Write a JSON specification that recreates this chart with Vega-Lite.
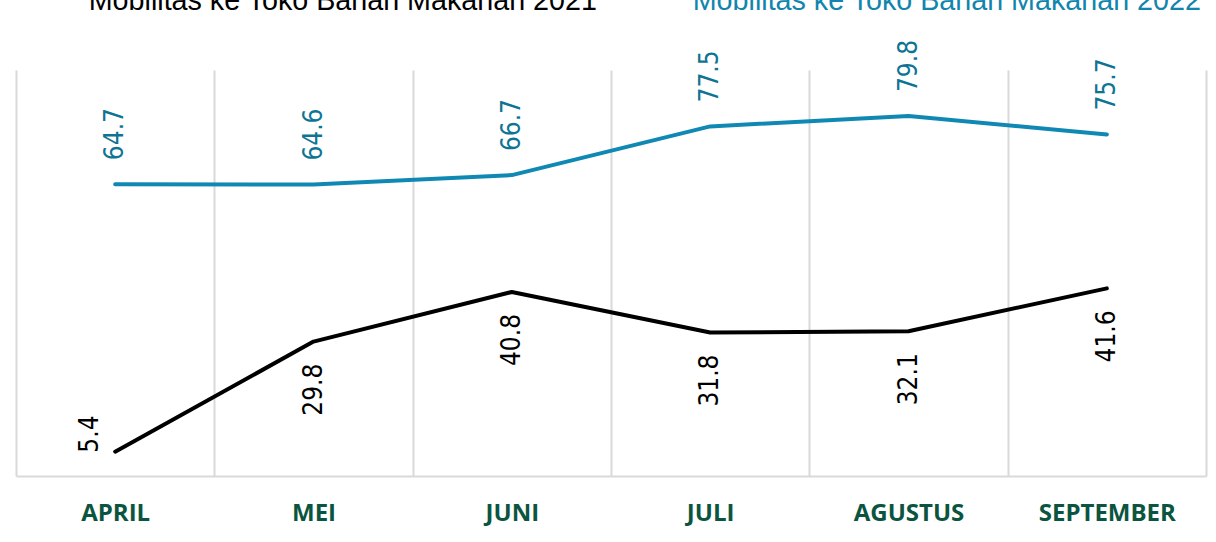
{
  "$schema": "https://vega.github.io/schema/vega-lite/v6.json",
  "width": 1190,
  "height": 406,
  "autosize": {"type": "none"},
  "padding": {"left": 16, "top": 70, "right": 10, "bottom": 66},
  "background": "white",
  "config": {"view": {"stroke": null}},
  "data": {
    "values": [
      {"month": "APRIL", "series": "Mobilitas ke Toko Bahan Makanan 2021", "value": 5.4},
      {"month": "MEI", "series": "Mobilitas ke Toko Bahan Makanan 2021", "value": 29.8},
      {"month": "JUNI", "series": "Mobilitas ke Toko Bahan Makanan 2021", "value": 40.8},
      {"month": "JULI", "series": "Mobilitas ke Toko Bahan Makanan 2021", "value": 31.8},
      {"month": "AGUSTUS", "series": "Mobilitas ke Toko Bahan Makanan 2021", "value": 32.1},
      {"month": "SEPTEMBER", "series": "Mobilitas ke Toko Bahan Makanan 2021", "value": 41.6},
      {"month": "APRIL", "series": "Mobilitas ke Toko Bahan Makanan 2022", "value": 64.7},
      {"month": "MEI", "series": "Mobilitas ke Toko Bahan Makanan 2022", "value": 64.6},
      {"month": "JUNI", "series": "Mobilitas ke Toko Bahan Makanan 2022", "value": 66.7},
      {"month": "JULI", "series": "Mobilitas ke Toko Bahan Makanan 2022", "value": 77.5},
      {"month": "AGUSTUS", "series": "Mobilitas ke Toko Bahan Makanan 2022", "value": 79.8},
      {"month": "SEPTEMBER", "series": "Mobilitas ke Toko Bahan Makanan 2022", "value": 75.7}
    ]
  },
  "encoding": {
    "x": {
      "field": "month", "type": "nominal", "sort": null,
      "scale": {"paddingInner": 0, "paddingOuter": 0},
      "axis": {
        "title": null, "ticks": false, "tickBand": "extent",
        "grid": true, "gridColor": "#d9d9d9", "gridWidth": 2,
        "domainColor": "#d9d9d9", "domainWidth": 2,
        "labelAngle": 0, "labelFont": "Open Sans", "labelFontWeight": "bold",
        "labelFontSize": 24, "labelColor": "#0b5540", "labelBaseline": "middle",
        "labelPadding": 37
      }
    },
    "y": {
      "field": "value", "type": "quantitative",
      "scale": {"domain": [0, 90], "nice": false, "zero": true},
      "axis": null
    }
  },
  "layer": [
    {
      "mark": {"type": "line", "strokeWidth": 4, "strokeCap": "round", "strokeJoin": "round"},
      "encoding": {
        "color": {
          "field": "series", "type": "nominal",
          "scale": {"range": ["#000000", "#0f89b3"]},
          "legend": {
            "title": null, "orient": "none", "direction": "horizontal",
            "legendX": 44, "legendY": -84,
            "symbolSize": 0, "symbolStrokeWidth": 0, "symbolOpacity": 0,
            "labelOffset": 0, "columnPadding": 66,
            "labelFont": "Liberation Sans", "labelFontSize": 28.7,
            "labelLimit": 0,
            "encode": {
              "labels": {
                "update": {
                  "fill": {"signal": "indexof(datum.label, '2022') >= 0 ? '#1285ad' : '#000000'"}
                }
              }
            }
          }
        }
      }
    },
    {
      "transform": [{"filter": "indexof(datum.series, '2022') >= 0"}],
      "mark": {"type": "text", "angle": -90, "align": "left", "baseline": "middle", "dx": 24, "font": "DejaVu Sans Condensed", "fontSize": 26, "color": "#0d7494"},
      "encoding": {"text": {"field": "value", "type": "quantitative", "format": ".1f"}}
    },
    {
      "transform": [{"filter": "indexof(datum.series, '2021') >= 0 && datum.month != 'APRIL'"}],
      "mark": {"type": "text", "angle": -90, "align": "right", "baseline": "middle", "dx": -22, "font": "DejaVu Sans Condensed", "fontSize": 26, "color": "#000000"},
      "encoding": {"text": {"field": "value", "type": "quantitative", "format": ".1f"}}
    },
    {
      "transform": [{"filter": "indexof(datum.series, '2021') >= 0 && datum.month == 'APRIL'"}],
      "mark": {"type": "text", "angle": -90, "align": "left", "baseline": "middle", "dx": -1, "dy": -25, "font": "DejaVu Sans Condensed", "fontSize": 26, "color": "#000000"},
      "encoding": {"text": {"field": "value", "type": "quantitative", "format": ".1f"}}
    }
  ]
}
